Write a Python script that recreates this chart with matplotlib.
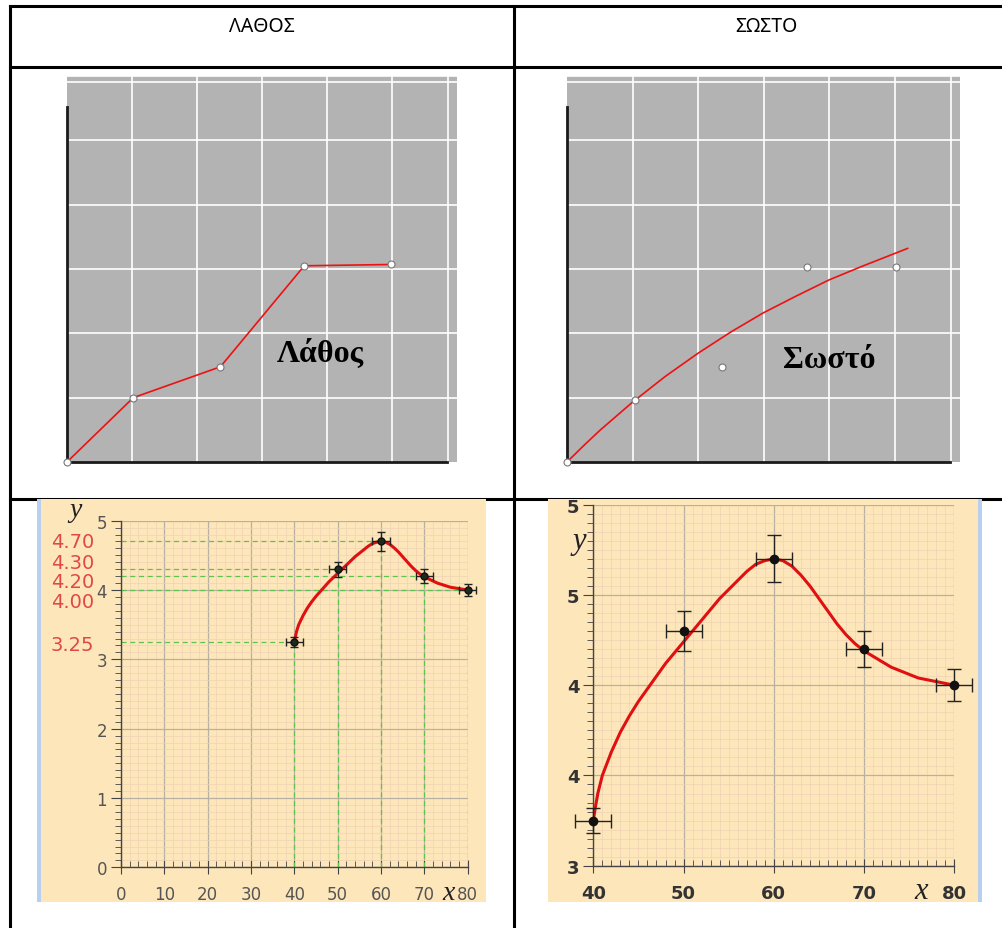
import numpy as np
import matplotlib
matplotlib.use("Agg")
import matplotlib.pyplot as plt
from matplotlib.patches import Rectangle
from matplotlib.lines import Line2D

W, H = 1003, 929

# table header
headers = ["ΛΑΘΟΣ", "ΣΩΣΤΟ"]

# top charts (grid units)
wrong_x = [0, 1.02, 2.36, 3.65, 4.98]
wrong_y = [0, 1.0, 1.48, 3.05, 3.07]
right_pts_x = [0, 1.04, 2.37, 3.67, 5.03]
right_pts_y = [0, 0.97, 1.48, 3.03, 3.03]
fit_x = [0, 0.25, 0.5, 0.75, 1.0, 1.5, 2.0, 2.5, 3.0, 3.5, 4.0, 4.5, 5.0, 5.2]
fit_y = [0, 0.25, 0.49, 0.71, 0.93, 1.33, 1.69, 2.02, 2.32, 2.58, 2.83, 3.04, 3.24, 3.32]

# bottom charts (measurements)
meas_x = [40, 50, 60, 70, 80]
meas_y = [3.25, 4.30, 4.70, 4.20, 4.00]
x_err = [2, 2, 2, 2, 2]
y_err = [0.07, 0.11, 0.13, 0.10, 0.09]
curve_x = [40, 40.25, 40.5, 41, 42, 43, 44, 45, 46, 47, 48, 49, 50, 51, 52, 53, 54, 55,
           56, 57, 58, 59, 60, 61, 62, 63, 64, 65, 66, 67, 68, 69, 70, 71, 72, 73, 74,
           75, 76, 77, 78, 79, 80]
curve_y = [3.25, 3.33, 3.40, 3.50, 3.63, 3.74, 3.83, 3.91, 3.98, 4.05, 4.12, 4.18,
           4.24, 4.30, 4.36, 4.42, 4.48, 4.53, 4.58, 4.63, 4.67, 4.69, 4.70, 4.69,
           4.66, 4.61, 4.55, 4.48, 4.41, 4.34, 4.28, 4.23, 4.19, 4.16, 4.13, 4.10,
           4.08, 4.06, 4.04, 4.03, 4.02, 4.01, 4.00]
red_labels = ["4.70", "4.30", "4.20", "4.00", "3.25"]
red_label_pos = [4.70, 4.40, 4.12, 3.84, 3.22]
right_ylabels = ["3", "4", "4", "5", "5"]

fig = plt.figure(figsize=(W / 100, H / 100), dpi=100)


def px_axes(x0, y0, x1, y1, **kw):
    return fig.add_axes([x0 / W, 1 - y1 / H, (x1 - x0) / W, (y1 - y0) / H], **kw)


# table lines
def fline(x0, y0, x1, y1):
    fig.add_artist(Line2D([x0 / W, x1 / W], [1 - y0 / H, 1 - y1 / H],
                          color="black", lw=2.2, transform=fig.transFigure, zorder=-3))


fline(10, 7, 1003, 7)
fline(10, 68, 1003, 68)
fline(10, 500, 1003, 500)
fline(10, 7, 10, 929)
fline(514, 7, 514, 929)

hfont = ["Noto Sans", "DejaVu Sans"]
fig.text(262 / W, 1 - 27 / H, headers[0], ha="center", va="center", fontsize=14, family=hfont)
fig.text(766 / W, 1 - 27 / H, headers[1], ha="center", va="center", fontsize=14, family=hfont)


def gray_chart(ax, label, lx, ly):
    ax.set_facecolor("#b3b3b3")
    ax.set_xlim(0, 6)
    ax.set_ylim(0, 6)
    for v in [1, 2, 3, 4, 5, 5.86]:
        ax.axvline(v, color="white", lw=1.2, zorder=1)
    for v in [1, 2, 3, 4, 5, 5.91, 6]:
        ax.axhline(v, color="white", lw=1.2, zorder=1)
    for s in ax.spines.values():
        s.set_visible(False)
    ax.set_xticks([])
    ax.set_yticks([])
    ax.plot([0, 0], [0, 5.52], color="#1a1a1a", lw=2, clip_on=False, zorder=2)
    ax.plot([0, 5.85], [0, 0], color="#1a1a1a", lw=2, clip_on=False, zorder=2)
    ax.text(lx, ly, label, ha="center", va="center", fontsize=23, fontweight="bold",
            family="Liberation Serif", zorder=5)


ax1 = px_axes(67, 77, 457, 463)
gray_chart(ax1, "Λάθος", 3.9, 1.7)
ax1.plot(wrong_x, wrong_y, color="#ee1111", lw=1.2, zorder=3)
ax1.plot(wrong_x, wrong_y, "o", ms=5, mfc="white", mec="#777777", mew=0.8,
         zorder=4, clip_on=False)

ax2 = px_axes(567, 77, 960, 463)
gray_chart(ax2, "Σωστό", 4.0, 1.6)
ax2.plot(fit_x, fit_y, color="#ee1111", lw=1.2, zorder=3)
ax2.plot(right_pts_x, right_pts_y, "o", ms=5, mfc="white", mec="#777777", mew=0.8,
         zorder=4, clip_on=False)

# yellow panels
yellow = "#fde6ba"
for (x0, x1, strip) in [(37, 486, 37), (548, 982, 978)]:
    fig.add_artist(Rectangle((x0 / W, 1 - 903 / H), (x1 - x0) / W, 403 / H,
                             transform=fig.transFigure, color=yellow, lw=0, zorder=-2))
    fig.add_artist(Rectangle((strip / W, 1 - 903 / H), 4 / W, 403 / H,
                             transform=fig.transFigure, color="#b9cff0", lw=0, zorder=-1))


def yellow_grid(ax, xminor, yminor):
    ax.set_facecolor("none")
    ax.set_xticks(np.arange(ax.get_xlim()[0], ax.get_xlim()[1] + 0.1, 10))
    ax.xaxis.set_minor_locator(matplotlib.ticker.MultipleLocator(xminor))
    ax.yaxis.set_minor_locator(matplotlib.ticker.MultipleLocator(yminor))
    ax.grid(which="minor", color="#efd2b4", lw=0.5, zorder=0)
    ax.grid(which="major", color="#b8b0a2", lw=0.9, zorder=0)
    ax.set_axisbelow(True)
    ax.spines["top"].set_visible(False)
    ax.spines["right"].set_visible(False)
    for s in ["left", "bottom"]:
        ax.spines[s].set_color("#444444")
        ax.spines[s].set_linewidth(1.0)
    ax.tick_params(axis="y", which="major", direction="out", length=7, color="#444444")
    ax.tick_params(axis="y", which="minor", direction="out", length=4, color="#444444")
    ax.tick_params(axis="x", which="major", direction="inout", length=10, color="#444444")
    ax.tick_params(axis="x", which="minor", direction="in", length=4, color="#444444")


# bottom left chart
ax3 = px_axes(121, 521.7, 467.7, 868.3)
ax3.set_xlim(0, 80)
ax3.set_ylim(0, 5)
yellow_grid(ax3, 2, 0.1)
ax3.set_yticks([0, 1, 2, 3, 4, 5])
ax3.tick_params(labelsize=12, labelcolor="#555555")
ax3.tick_params(axis="x", pad=8)
ax3.tick_params(axis="y", pad=3)
green = "#5ec24f"
for xv, yv in zip(meas_x, meas_y):
    ax3.plot([xv, xv], [0, yv], ls=(0, (4, 3)), color=green, lw=0.9, zorder=1)
    ax3.plot([0, xv], [yv, yv], ls=(0, (4, 3)), color=green, lw=0.9, zorder=1)
ax3.plot(curve_x, curve_y, color="#e01010", lw=2.2, zorder=3)
ax3.errorbar(meas_x, meas_y, xerr=x_err, yerr=y_err, fmt="o", ms=5, color="#111111",
             mfc="#1f2a1f", ecolor="#222222", elinewidth=1.0, capsize=3, zorder=4,
             clip_on=False)
for lab, yp in zip(red_labels, red_label_pos):
    ax3.text(-6.2, yp, lab, ha="right", va="center", fontsize=14, color="#e04848")
ax3.text(-10.5, 5.16, "y", ha="center", va="center", fontsize=20, style="italic",
         family="Liberation Serif", color="#222222")
ax3.text(75.5, -0.37, "x", ha="center", va="center", fontsize=20, style="italic",
         family="Liberation Serif", color="#222222")

# bottom right chart
ax4 = px_axes(593.3, 505.7, 954.3, 866.7)
ax4.set_xlim(40, 80)
ax4.set_ylim(3, 5)
yellow_grid(ax4, 1, 0.05)
ax4.set_yticks([3, 3.5, 4, 4.5, 5])
ax4.set_yticklabels(right_ylabels)
ax4.tick_params(labelsize=13, labelcolor="#333333")
for t in ax4.get_xticklabels() + ax4.get_yticklabels():
    t.set_fontweight("bold")
ax4.tick_params(axis="x", pad=8)
ax4.tick_params(axis="y", pad=3)
ax4.plot(curve_x, curve_y, color="#e01010", lw=2.2, zorder=3)
ax4.errorbar(meas_x, meas_y, xerr=x_err, yerr=y_err, fmt="o", ms=6, color="#111111",
             ecolor="#222222", elinewidth=1.0, capsize=5, zorder=4, clip_on=False)
ax4.text(38.5, 4.80, "y", ha="center", va="center", fontsize=22, style="italic",
         family="Liberation Serif", color="#222222")
ax4.text(76.3, 2.86, "x", ha="center", va="center", fontsize=22, style="italic",
         family="Liberation Serif", color="#222222")

fig.savefig("out.png", dpi=100)
